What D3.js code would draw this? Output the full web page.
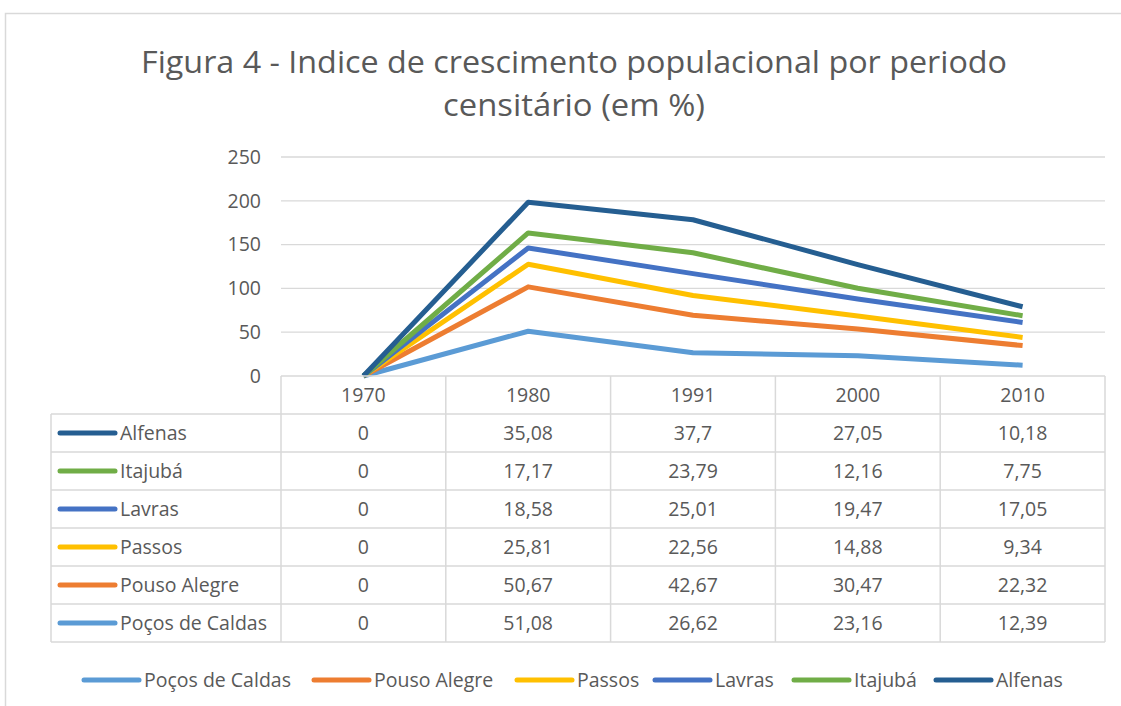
<!DOCTYPE html>
<html>
<head>
<meta charset="utf-8">
<script src="https://cdn.jsdelivr.net/npm/d3@7"></script>
<style>
  body { margin: 0; background: #fff; }
  text { font-family: "Open Sans", sans-serif; fill: #595959; }
</style>
</head>
<body>
<svg id="chart"></svg>
<script>
const years = ["1970", "1980", "1991", "2000", "2010"];
const cities = ["Poços de Caldas", "Pouso Alegre", "Passos", "Lavras", "Itajubá", "Alfenas"];
const pocos = [0, 51.08, 26.62, 23.16, 12.39];
const pouso = [0, 50.67, 42.67, 30.47, 22.32];
const passos = [0, 25.81, 22.56, 14.88, 9.34];
const lavras = [0, 18.58, 25.01, 19.47, 17.05];
const itajuba = [0, 17.17, 23.79, 12.16, 7.75];
const alfenas = [0, 35.08, 37.7, 27.05, 10.18];
const yTicks = [0, 50, 100, 150, 200, 250];
const colors = ["#5B9BD5", "#ED7D31", "#FFC000", "#4472C4", "#70AD47", "#255E91"];

const seriesValues = [pocos, pouso, passos, lavras, itajuba, alfenas];
const W = 1121, H = 706;
const fs = "19.5px";

const svg = d3.select("#chart").attr("width", W).attr("height", H);

// Chart border
svg.append("path")
    .attr("d", "M5.5,706 V13.5 H1121")
    .attr("fill", "none")
    .attr("stroke", "#d9d9d9")
    .attr("stroke-width", 1.5);

// Title
const title = svg.append("text")
    .attr("text-anchor", "middle")
    .style("font-size", "31px");
title.append("tspan").attr("x", 574).attr("y", 73)
    .attr("textLength", 866).attr("lengthAdjust", "spacingAndGlyphs")
    .text("Figura 4 - Indice de crescimento populacional por periodo");
title.append("tspan").attr("x", 574).attr("y", 116)
    .attr("textLength", 262).attr("lengthAdjust", "spacingAndGlyphs")
    .text("censitário (em %)");

// Scales
const x = d3.scaleBand().domain(years).range([281, 1105]);
const y = d3.scaleLinear().domain([0, 250]).range([376, 157]);

// Stack the series
const rows = years.map((yr, i) => {
    const r = { year: yr };
    cities.forEach((c, j) => r[c] = seriesValues[j][i]);
    return r;
});
const stacked = d3.stack().keys(cities)(rows);

// Gridlines
svg.append("g")
    .selectAll("line")
    .data(yTicks.slice(1))
    .join("line")
    .attr("x1", 281).attr("x2", 1105)
    .attr("y1", d => y(d)).attr("y2", d => y(d))
    .attr("stroke", "#d9d9d9").attr("stroke-width", 1.3);

// Y axis
const yAxis = svg.append("g")
    .attr("transform", "translate(281,0)")
    .call(d3.axisLeft(y).tickValues(yTicks).tickSize(0).tickPadding(20));
yAxis.select(".domain").remove();
yAxis.selectAll("text").style("font-size", fs).attr("fill", "#595959");

// Lines
const line = d3.line()
    .x((d, i) => x(years[i]) + x.bandwidth() / 2)
    .y(d => y(d[1]));

svg.append("g")
    .selectAll("path")
    .data(stacked)
    .join("path")
    .attr("d", d => line(d))
    .attr("fill", "none")
    .attr("stroke", (d, i) => colors[i])
    .attr("stroke-width", 5)
    .attr("stroke-linejoin", "round");

// Data table
const rowH = 38;
const headerTop = 376;
const tableLeft = 51;
const tableRight = 1105;
const order = cities.slice().reverse();
const grid = svg.append("g").attr("stroke", "#d9d9d9").attr("stroke-width", 1.5);

x.domain().concat(["end"]).forEach((yr, i) => {
    const xx = i < years.length ? x(yr) : tableRight;
    grid.append("line").attr("x1", xx).attr("x2", xx)
        .attr("y1", headerTop).attr("y2", headerTop + rowH * (order.length + 1));
});
grid.append("line").attr("x1", 281).attr("x2", tableRight).attr("y1", headerTop).attr("y2", headerTop);
for (let r = 1; r <= order.length + 1; r++) {
    grid.append("line").attr("x1", tableLeft).attr("x2", tableRight)
        .attr("y1", headerTop + rowH * r).attr("y2", headerTop + rowH * r);
}
grid.append("line").attr("x1", tableLeft).attr("x2", tableLeft)
    .attr("y1", headerTop + rowH).attr("y2", headerTop + rowH * (order.length + 1));

// header labels
svg.append("g").selectAll("text")
    .data(years)
    .join("text")
    .attr("x", d => x(d) + x.bandwidth() / 2)
    .attr("y", headerTop + rowH / 2 + 7)
    .attr("text-anchor", "middle")
    .style("font-size", fs)
    .text(d => d);

const fmt = v => String(v).replace(".", ",");
order.forEach((city, r) => {
    const j = cities.indexOf(city);
    const cy = headerTop + rowH * (r + 1) + rowH / 2;
    svg.append("line")
        .attr("x1", 60).attr("x2", 115)
        .attr("y1", cy).attr("y2", cy)
        .attr("stroke", colors[j]).attr("stroke-width", 5)
        .attr("stroke-linecap", "round");
    svg.append("text")
        .attr("x", 120).attr("y", cy + 7)
        .style("font-size", fs)
        .text(city);
    svg.append("g").selectAll("text")
        .data(seriesValues[j])
        .join("text")
        .attr("x", (d, i) => x(years[i]) + x.bandwidth() / 2)
        .attr("y", cy + 7)
        .attr("text-anchor", "middle")
        .style("font-size", fs)
        .text(d => fmt(d));
});

// Legend
const legendX = [84, 314, 517, 655, 794, 936];
const legend = svg.append("g");
cities.forEach((c, i) => {
    const lg = legend.append("g").attr("transform", `translate(${legendX[i]},680)`);
    lg.append("line").attr("x1", 0).attr("x2", 55)
        .attr("stroke", colors[i]).attr("stroke-width", 5).attr("stroke-linecap", "round");
    lg.append("text").attr("x", 60).attr("y", 7)
        .style("font-size", fs).text(c);
});
</script>
</body>
</html>
